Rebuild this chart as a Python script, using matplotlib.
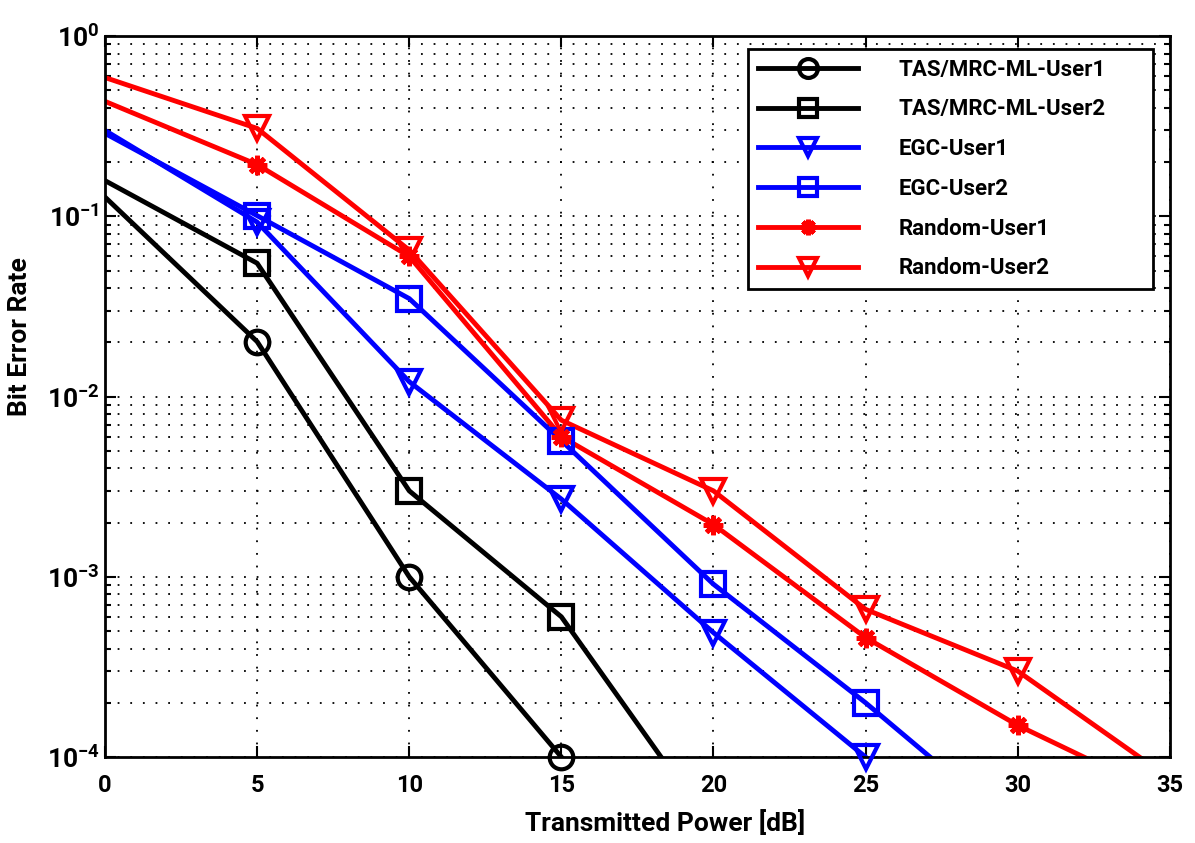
import matplotlib.pyplot as plt
from matplotlib.ticker import LogLocator, NullFormatter, FixedLocator

# transmitted power [dB]
power_db = [0, 5, 10, 15, 20, 25, 30, 35]

# bit error rates
tas_user1 = [0.128, 0.0202, 1.0e-3, 1.0e-4, 1.0e-5]
tas_user2 = [0.158, 0.055, 3.0e-3, 6.0e-4, 3.9e-5]
egc_user1 = [0.30, 0.093, 0.0121, 2.7e-3, 4.9e-4, 1.0e-4, 1.0e-5]
egc_user2 = [0.289, 0.101, 0.035, 5.7e-3, 9.1e-4, 2.0e-4, 3.9e-5]
rnd_user1 = [0.435, 0.194, 0.060, 6.0e-3, 1.95e-3, 4.6e-4, 1.5e-4, 5.9e-5]
rnd_user2 = [0.59, 0.308, 0.065, 7.4e-3, 3.0e-3, 6.6e-4, 3.0e-4, 7.6e-5]

labels = ['TAS/MRC-ML-User1', 'TAS/MRC-ML-User2', 'EGC-User1',
          'EGC-User2', 'Random-User1', 'Random-User2']

plt.rcParams['font.family'] = ['Roboto', 'DejaVu Sans']
plt.rcParams['font.weight'] = 'bold'
plt.rcParams['mathtext.fontset'] = 'custom'
plt.rcParams['mathtext.rm'] = 'Roboto:bold'
plt.rcParams['mathtext.bf'] = 'Roboto:bold'

fig = plt.figure(figsize=(11.95, 8.43), dpi=100)
ax = fig.add_axes([0.0879, 0.102, 0.891, 0.855])

series = [tas_user1, tas_user2, egc_user1, egc_user2, rnd_user1, rnd_user2]
colors = ['black', 'black', 'blue', 'blue', 'red', 'red']
markers = ['o', 's', 'v', 's', (8, 2, 0), 'v']
for ys, c, m, lab in zip(series, colors, markers, labels):
    xs = power_db[:len(ys)]
    if isinstance(m, tuple):
        mk = dict(marker=m, ms=14, mfc=c, mec=c, mew=3.5)
    else:
        mk = dict(marker=m, ms=17, mfc='none', mec=c, mew=3)
    # the line itself (clipped, no marker at 0 dB)
    ax.plot(xs, ys, color=c, lw=3.5)
    # markers, only those inside the plotted range, not clipped
    mx = [x for x, y in zip(xs, ys) if x > 0 and y >= 1e-4]
    my = [y for x, y in zip(xs, ys) if x > 0 and y >= 1e-4]
    ax.plot(mx, my, ls='none', clip_on=False, zorder=3, **mk)
    # legend handle
    leg_mk = dict(mk)
    leg_mk['ms'] = mk['ms'] * 0.8
    ax.plot([], [], color=c, lw=3.5, label=lab, **leg_mk)

ax.set_yscale('log')
ax.set_xlim(0, 35)
ax.set_ylim(1e-4, 1)
ax.xaxis.set_major_locator(FixedLocator(range(0, 36, 5)))
ax.yaxis.set_major_locator(LogLocator(base=10, numticks=10))
ax.yaxis.set_minor_locator(LogLocator(base=10, subs=range(2, 10), numticks=10))
ax.yaxis.set_minor_formatter(NullFormatter())

ax.grid(True, which='major', axis='both', color='black', linestyle=(0, (1, 6)), lw=1.3)
ax.grid(True, which='minor', axis='y', color='black', linestyle=(0, (1, 6)), lw=1.3)
ax.tick_params(which='both', direction='in', top=True, right=True, width=1.5)
ax.tick_params(which='major', length=8, pad=12)
ax.tick_params(axis='x', which='major', labelsize=17)
ax.tick_params(axis='y', which='major', labelsize=19, pad=4)
ax.tick_params(which='minor', length=4)
for sp in ax.spines.values():
    sp.set_linewidth(2)

ax.set_xlabel('Transmitted Power [dB]', fontsize=19, fontweight='bold')
ax.set_ylabel('Bit Error Rate', fontsize=19, fontweight='bold')
ax.xaxis.set_label_coords(0.526, -0.074)
ax.yaxis.set_label_coords(-0.069, 0.583)

leg = ax.legend(loc='upper right', fontsize=16, handlelength=4.5,
                handletextpad=1.8, labelspacing=0.8, borderpad=0.45,
                borderaxespad=0, fancybox=False, edgecolor='black',
                framealpha=1, mode='expand',
                bbox_to_anchor=(0.604, 0.5, 0.38, 0.483))
leg.get_frame().set_linewidth(2)

plt.savefig('out.png', dpi=100)
